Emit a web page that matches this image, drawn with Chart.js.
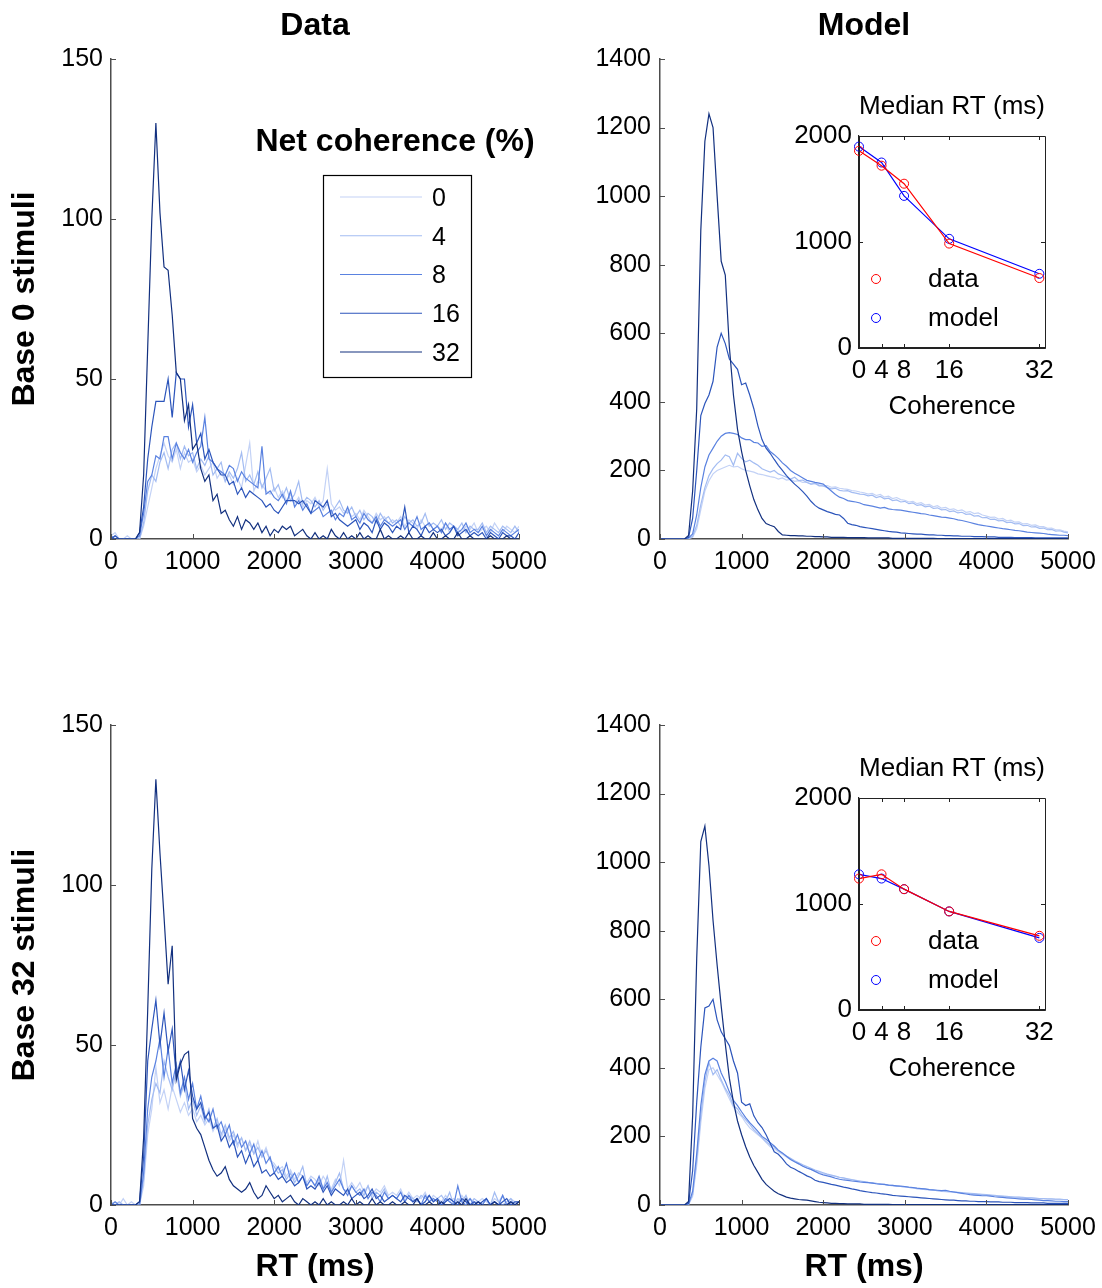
<!DOCTYPE html>
<html>
<head>
<meta charset="utf-8">
<title>RT distributions</title>
<script src="https://cdn.jsdelivr.net/npm/chart.js@4.4.1/dist/chart.umd.min.js"></script>
<style>
  body { margin: 0; background: #fff; }
  #page { position: relative; width: 1102px; height: 1288px; background: #fff; overflow: hidden; }
  #page canvas { position: absolute; }
</style>
</head>
<body>
<div id="page">
  <canvas id="tl" width="560" height="620" style="left:0;top:0"></canvas>
  <canvas id="tr" width="560" height="620" style="left:551px;top:0"></canvas>
  <canvas id="bl" width="560" height="668" style="left:0;top:620px"></canvas>
  <canvas id="br" width="560" height="668" style="left:551px;top:620px"></canvas>
  <canvas id="insetTop" width="300" height="350" style="left:780px;top:80px"></canvas>
  <canvas id="insetBot" width="300" height="350" style="left:780px;top:742px"></canvas>
</div>
<script>
// RT bins (ms), 50 ms wide
const rtBins = [
  0,50,100,150,200,250,300,350,400,450,
  500,550,600,650,700,750,800,850,900,950,
  1000,1050,1100,1150,1200,1250,1300,1350,1400,1450,
  1500,1550,1600,1650,1700,1750,1800,1850,1900,1950,
  2000,2050,2100,2150,2200,2250,2300,2350,2400,2450,
  2500,2550,2600,2650,2700,2750,2800,2850,2900,2950,
  3000,3050,3100,3150,3200,3250,3300,3350,3400,3450,
  3500,3550,3600,3650,3700,3750,3800,3850,3900,3950,
  4000,4050,4100,4150,4200,4250,4300,4350,4400,4450,
  4500,4550,4600,4650,4700,4750,4800,4850,4900,4950,
  5000];

const cohLabels = ['0', '4', '8', '16', '32'];
const cohColors = ['#c3d2f6', '#a3bcf2', '#5a82e0', '#2c55bb', '#12307f'];

// Base 0 stimuli - data
const b0Data0 = [
  1,2,0,0,1,0,0,0,4,10,
  16,22,26,30,26,24,28,22,27,24,
  25,21,23,20,22,24,19,21,18,20,
  17,19,16,23,30,15,18,17,15,14,
  16,13,15,12,14,11,13,10,12,11,
  13,10,12,22,11,9,10,8,9,7,
  8,6,9,7,5,8,6,7,5,6,
  5,7,4,6,5,3,6,4,5,3,
  4,3,5,2,4,3,2,4,3,5,
  2,3,4,2,5,3,2,4,3,2,
  4];
const b0Data4 = [
  0,1,0,0,0,0,0,0,5,15,
  20,18,24,27,22,28,30,25,29,26,
  27,22,25,23,26,20,22,24,18,21,
  19,22,27,18,20,17,21,16,19,22,
  15,17,13,16,12,14,18,11,13,12,
  10,12,9,11,8,10,12,9,8,10,
  7,9,6,8,7,5,8,6,7,5,
  6,4,7,5,6,4,5,8,4,5,
  4,6,3,5,4,3,5,2,4,3,
  3,5,2,4,3,2,4,3,2,4,
  2];
const b0Data8 = [
  1,0,0,0,0,0,0,1,8,18,
  20,26,25,32,32,25,30,27,25,28,
  24,27,29,38,25,24,22,21,20,23,
  22,18,21,19,18,17,16,29,14,15,
  13,12,14,11,15,10,12,9,11,8,
  9,10,7,8,9,6,8,7,10,6,
  7,5,8,6,5,7,4,6,5,4,
  5,6,3,5,4,7,3,4,5,3,
  4,2,5,3,4,2,3,5,2,3,
  2,4,1,3,2,1,3,2,1,2,
  3];
const b0Data16 = [
  0,1,0,0,0,0,0,2,10,25,
  35,43,43,43,50,38,52,50,50,35,
  42,30,33,25,28,24,22,20,20,17,
  18,14,16,13,15,14,13,12,10,11,
  9,8,10,12,12,12,11,12,10,8,
  12,11,10,12,7,8,6,5,4,5,
  6,3,5,4,2,6,3,5,4,2,
  4,3,10,2,4,3,1,4,2,3,
  2,3,1,2,4,1,2,3,1,2,
  1,2,0,2,1,0,2,1,1,0,
  2];
const b0Data32 = [
  0,0,0,0,0,0,0,2,20,60,
  100,130,102,85,84,70,52,50,37,42,
  28,30,22,18,20,12,14,8,9,6,
  4,7,3,6,5,3,5,2,4,1,
  3,2,4,3,4,1,2,3,1,0,
  2,0,1,0,3,1,0,2,0,1,
  0,2,0,1,0,0,3,0,1,0,
  0,1,0,2,0,0,1,0,0,2,
  0,0,1,0,0,2,0,0,1,0,
  0,0,0,1,0,0,0,1,0,0,
  0];

// Base 0 stimuli - model
const b0Model0 = [
  0,0,0,0,0,0,0,1,5,30,
  85,140,170,190,200,205,210,215,210,212,
  205,200,198,195,190,188,185,182,180,175,
  178,172,174,168,170,165,166,160,162,158,
  155,156,151,152,148,146,145,141,140,137,
  135,131,133,127,130,122,125,118,121,115,
  113,108,110,103,106,99,101,94,97,90,
  92,86,88,82,85,78,80,74,76,70,
  67,63,64,58,60,53,55,49,50,44,
  45,40,41,36,36,31,32,27,27,23,
  21];
const b0Model4 = [
  0,0,0,0,0,0,0,2,8,40,
  100,150,185,205,220,230,245,240,215,250,
  235,225,230,222,215,205,200,195,200,190,
  185,180,175,180,170,172,165,160,162,155,
  155,150,146,148,142,140,141,136,134,131,
  130,126,128,121,124,117,119,112,114,108,
  110,103,105,98,100,94,96,89,91,85,
  86,80,82,76,78,72,73,67,68,62,
  63,57,58,53,54,48,49,44,45,39,
  40,35,36,31,32,27,28,23,24,20,
  18];
const b0Model8 = [
  0,0,0,0,0,0,0,3,15,70,
  150,210,245,265,285,300,308,310,308,305,
  295,290,290,282,280,270,272,255,246,235,
  222,212,200,192,185,178,171,168,165,163,
  160,150,140,130,122,118,112,110,108,105,
  100,98,96,93,90,92,88,86,85,84,
  82,80,78,76,74,73,70,68,66,64,
  63,61,59,56,54,51,48,45,42,40,
  38,36,34,32,30,29,27,25,24,22,
  20,19,18,17,16,14,13,12,11,11,
  10];
const b0Model16 = [
  0,0,0,0,0,0,0,5,60,200,
  360,395,420,460,560,600,570,525,510,495,
  450,455,420,380,330,290,265,250,232,215,
  200,185,172,160,150,138,125,110,98,90,
  85,80,76,72,70,60,46,42,40,36,
  34,32,30,28,26,24,22,21,20,18,
  17,16,15,14,14,13,12,12,11,11,
  10,10,9,9,8,8,8,7,7,7,
  6,6,6,5,5,5,5,4,4,4,
  4,4,3,3,3,3,3,3,3,3,
  3];
const b0Model32 = [
  0,0,0,0,0,0,0,10,140,380,
  900,1160,1240,1200,1000,810,770,560,420,320,
  255,200,155,115,85,60,45,40,36,22,
  12,11,10,10,9,9,8,8,7,7,
  6,6,5,5,5,5,4,4,4,4,
  4,3,3,3,3,3,3,2,2,2,
  2,2,2,2,2,2,2,2,1,1,
  1,1,1,1,1,1,1,1,1,1,
  1,1,1,1,1,1,1,1,1,1,
  1,1,1,1,1,1,1,1,1,1,
  1];

// Base 32 stimuli - data
const b32Data0 = [
  1,0,0,2,0,1,0,0,6,22,
  30,43,32,36,30,37,33,29,32,28,
  30,26,28,25,27,23,26,21,24,20,
  22,18,21,17,19,16,20,15,18,14,
  13,11,12,9,11,8,10,9,7,9,
  8,6,9,7,5,8,6,14,5,7,
  5,7,4,6,3,5,4,6,3,4,
  3,5,2,4,2,3,2,4,1,3,
  2,1,3,1,2,1,3,1,2,1,
  1,2,1,0,2,1,3,0,2,1,
  1];
const b32Data4 = [
  0,0,1,0,0,0,0,0,8,25,
  33,38,35,45,40,36,42,34,38,30,
  33,28,31,26,30,24,27,22,25,21,
  23,19,21,17,20,16,18,15,17,14,
  12,10,11,8,10,7,9,12,6,8,
  6,8,5,9,4,7,10,5,4,6,
  4,5,3,6,2,4,3,5,2,3,
  2,4,1,3,2,1,3,2,3,1,
  2,3,1,4,0,2,1,3,0,2,
  1,0,2,0,4,1,0,1,2,0,
  1];
const b32Data8 = [
  0,1,0,0,0,0,0,0,10,30,
  40,45,52,40,49,38,44,35,40,33,
  38,30,34,28,26,30,24,26,22,25,
  19,22,18,20,16,19,14,17,13,15,
  10,12,9,13,8,10,7,9,6,8,
  6,9,5,7,4,6,8,5,3,6,
  4,3,5,2,4,3,1,4,2,3,
  2,4,1,3,1,2,0,3,1,2,
  1,0,2,1,0,6,1,0,2,0,
  1,0,2,0,1,0,3,0,1,0,
  1];
const b32Data16 = [
  0,0,0,0,0,0,0,1,15,45,
  55,64,50,60,48,55,40,45,36,42,
  34,30,32,27,29,24,25,20,22,18,
  20,15,17,13,16,12,14,10,11,9,
  10,8,9,7,8,6,7,9,5,6,
  5,7,4,6,3,5,4,3,5,2,
  3,4,2,3,5,2,3,1,2,3,
  2,1,3,2,1,2,0,1,3,1,
  2,0,1,2,1,0,2,1,0,1,
  0,1,2,0,1,0,1,2,0,1,
  1];
const b32Data32 = [
  0,0,0,0,0,0,0,1,21,61,
  105,133,110,90,69,81,39,44,47,48,
  27,24,22,18,14,11,9,10,12,8,
  6,5,4,5,7,4,2,3,6,4,
  2,3,1,2,3,1,0,2,1,0,
  1,0,2,0,1,0,0,1,0,2,
  0,1,0,0,2,0,1,0,0,1,
  0,0,1,0,0,2,0,0,1,0,
  0,1,0,0,0,1,0,2,0,0,
  1,0,0,0,1,0,0,0,1,0,
  1];

// Base 32 stimuli - model
const b32Model0 = [
  0,0,0,0,0,0,0,1,25,115,
  240,340,395,400,380,360,335,310,285,270,
  258,240,225,215,205,195,182,170,165,155,
  148,140,133,126,120,114,108,104,99,95,
  92,89,86,83,80,78,76,73,71,69,
  67,66,64,62,61,59,58,56,55,54,
  52,51,49,48,47,45,44,43,42,40,
  39,38,37,36,35,34,33,32,31,30,
  29,28,27,26,25,24,23,22,22,21,
  20,20,19,18,18,17,17,16,16,15,
  15];
const b32Model4 = [
  0,0,0,0,0,0,0,2,30,130,
  260,360,415,380,395,365,340,320,290,280,
  262,248,235,220,208,196,185,175,170,158,
  150,143,136,129,123,117,112,107,102,98,
  94,90,87,84,81,79,76,74,72,70,
  68,66,65,63,61,60,58,57,55,54,
  53,51,50,48,47,46,45,43,42,41,
  40,39,38,37,36,35,34,33,32,31,
  30,29,28,27,26,25,24,23,23,22,
  21,21,20,19,19,18,18,17,17,16,
  16];
const b32Model8 = [
  0,0,0,0,0,0,0,3,40,150,
  290,380,420,428,420,385,360,330,305,290,
  272,255,240,228,215,200,192,182,172,160,
  152,142,133,126,120,113,108,104,98,92,
  88,85,82,78,75,73,72,70,69,67,
  66,65,64,62,61,60,58,57,56,55,
  54,52,51,49,48,47,45,44,43,42,
  43,40,38,36,34,32,30,29,28,27,
  27,26,24,23,22,21,20,19,18,17,
  17,16,15,14,13,13,12,11,11,10,
  10];
const b32Model16 = [
  0,0,0,0,0,0,0,5,100,300,
  460,575,580,600,540,505,485,465,420,385,
  300,290,295,260,240,226,205,180,155,148,
  135,120,110,105,98,92,85,80,72,68,
  66,63,60,58,55,52,50,47,45,42,
  40,38,36,35,33,32,30,28,27,26,
  25,24,23,22,21,20,19,18,17,16,
  15,14,14,13,12,12,11,11,10,10,
  10,9,9,9,8,8,8,7,7,7,
  7,6,6,6,6,5,5,5,5,5,
  5];
const b32Model32 = [
  0,0,0,0,0,0,0,10,260,720,
  1060,1105,990,830,700,580,470,370,300,245,
  205,170,140,115,95,75,60,50,40,33,
  28,23,20,18,16,15,14,12,10,8,
  7,6,5,5,4,4,3,3,3,3,
  2,2,2,2,2,2,2,1,1,1,
  1,1,1,1,1,1,1,1,1,1,
  1,1,1,1,1,1,1,1,1,1,
  1,1,1,1,1,1,1,1,1,1,
  1,1,1,1,1,1,1,1,1,1,
  1];

// Median RT insets
const cohValues = [0, 4, 8, 16, 32];
const b0MedianData = [1860, 1720, 1550, 985, 660];
const b0MedianModel = [1900, 1750, 1435, 1030, 700];
const b32MedianData = [1240, 1280, 1140, 930, 700];
const b32MedianModel = [1280, 1240, 1140, 930, 680];

Chart.defaults.font.family = "'Liberation Sans', Arial, sans-serif";
Chart.defaults.color = '#000';

const FONT = "'Liberation Sans', Arial, sans-serif";
const AXIS = '#4d4d4d';

// ticks pointing into the plot (matlab style)
const inTicks = {
  id: 'inTicks',
  afterDraw(chart, args, opts) {
    const {ctx, chartArea: a, scales: {x, y}} = chart;
    const len = opts.len || 5;
    ctx.save();
    ctx.strokeStyle = opts.color || AXIS;
    ctx.lineWidth = opts.width || 1;
    ctx.beginPath();
    x.ticks.forEach(t => {
      const px = Math.round(x.getPixelForValue(t.value)) + 0.5;
      ctx.moveTo(px, a.bottom); ctx.lineTo(px, a.bottom - len);
      if (opts.mirror) { ctx.moveTo(px, a.top); ctx.lineTo(px, a.top + len); }
    });
    y.ticks.forEach(t => {
      const py = Math.round(y.getPixelForValue(t.value)) + 0.5;
      ctx.moveTo(a.left, py); ctx.lineTo(a.left + len, py);
      if (opts.mirror) { ctx.moveTo(a.right, py); ctx.lineTo(a.right - len, py); }
    });
    if (opts.box) ctx.rect(a.left + 0.5, a.top + 0.5, a.width, a.height);
    ctx.stroke();
    ctx.restore();
  }
};

// legend box "Net coherence (%)"
const cohLegend = {
  id: 'cohLegend',
  afterDraw(chart, args, opts) {
    if (!opts.show) return;
    const {ctx, chartArea: a} = chart;
    const sets = chart.data.datasets;
    ctx.save();
    ctx.fillStyle = '#000';
    ctx.textAlign = 'center';
    ctx.textBaseline = 'middle';
    ctx.font = 'bold 32px ' + FONT;
    ctx.fillText('Net coherence (%)', a.left + 284, a.top + 83);
    ctx.strokeStyle = '#000';
    ctx.lineWidth = 1.2;
    ctx.strokeRect(a.left + 212.5, a.top + 116.5, 148, 202);
    ctx.textAlign = 'left';
    ctx.font = '25px ' + FONT;
    sets.forEach((ds, i) => {
      const yy = a.top + 139 + i * 38.75;
      ctx.strokeStyle = ds.borderColor;
      ctx.lineWidth = 1.2;
      ctx.beginPath();
      ctx.moveTo(a.left + 229, yy - 1);
      ctx.lineTo(a.left + 311, yy - 1);
      ctx.stroke();
      ctx.fillText(ds.label, a.left + 321, yy + 1);
    });
    ctx.restore();
  }
};

// legend for the median RT inset
const rtLegend = {
  id: 'rtLegend',
  afterDraw(chart) {
    const {ctx, chartArea: a} = chart;
    ctx.save();
    ctx.font = '26px ' + FONT;
    ctx.textBaseline = 'middle';
    ctx.fillStyle = '#000';
    chart.data.datasets.forEach((ds, i) => {
      const yy = a.top + 143 + i * 39;
      ctx.strokeStyle = ds.borderColor;
      ctx.lineWidth = 1;
      ctx.beginPath();
      ctx.arc(a.left + 17, yy, 4.5, 0, Math.PI * 2);
      ctx.stroke();
      ctx.fillText(ds.label, a.left + 69, yy + 1);
    });
    ctx.restore();
  }
};

function makeSets(series) {
  return series.map((vals, i) => ({
    label: cohLabels[i],
    data: vals.map((v, k) => ({x: rtBins[k], y: v})),
    borderColor: cohColors[i],
    borderWidth: 1.2,
    pointRadius: 0,
    fill: false,
    order: series.length - i
  }));
}

function panelConfig(series, yMax, yStep, opt) {
  return {
    type: 'line',
    data: { datasets: makeSets(series) },
    options: {
      responsive: false,
      animation: false,
      devicePixelRatio: 1,
      events: [],
      layout: { padding: { top: opt.padTop, right: opt.padRight, left: 0, bottom: 0 } },
      scales: {
        x: {
          type: 'linear', min: 0, max: 5000,
          ticks: { stepSize: 1000, padding: 8, font: { size: 25 }, callback: v => String(v) },
          grid: { display: false, drawTicks: false },
          border: { color: AXIS, width: 1.5 },
          title: {
            display: !!opt.xTitle, text: opt.xTitle || '',
            font: { size: 32, weight: 'bold' }, padding: { top: 0, bottom: 2 }
          },
          afterFit: s => { s.height = opt.xHeight; }
        },
        y: {
          min: 0, max: yMax,
          ticks: { stepSize: yStep, padding: opt.yPad, font: { size: 25 }, callback: v => String(v) },
          grid: { display: false, drawTicks: false },
          border: { color: AXIS, width: 1.5 },
          title: {
            display: !!opt.yTitle, text: opt.yTitle || '',
            font: { size: 32, weight: 'bold' }, padding: { top: 6, bottom: 0 }
          },
          afterFit: s => { s.width = opt.yWidth; }
        }
      },
      plugins: {
        legend: { display: false },
        tooltip: { enabled: false },
        title: {
          display: !!opt.title, text: opt.title || '', fullSize: false,
          font: { size: 32, weight: 'bold' }, color: '#000',
          padding: { top: 7, bottom: 13.6 }
        },
        inTicks: { len: 5 },
        cohLegend: { show: !!opt.legend }
      }
    },
    plugins: [inTicks, cohLegend]
  };
}

function insetConfig(dataVals, modelVals) {
  const mk = (label, vals, color) => ({
    label: label,
    data: vals.map((v, i) => ({x: cohValues[i], y: v})),
    borderColor: color,
    borderWidth: 1.2,
    pointRadius: 4.5,
    pointBorderWidth: 1,
    pointBorderColor: color,
    pointBackgroundColor: 'rgba(0,0,0,0)',
    clip: 10
  });
  return {
    type: 'line',
    data: { datasets: [mk('data', dataVals, '#ff0000'), mk('model', modelVals, '#0000ff')] },
    options: {
      responsive: false,
      animation: false,
      devicePixelRatio: 1,
      events: [],
      layout: { padding: { top: 0, right: 35, left: 0, bottom: 0 } },
      scales: {
        x: {
          type: 'linear', min: 0, max: 33,
          afterBuildTicks: s => { s.ticks = cohValues.map(v => ({value: v})); },
          ticks: { padding: 7, font: { size: 26 }, callback: v => String(v) },
          grid: { display: false, drawTicks: false },
          border: { color: '#222', width: 1.2 },
          title: { display: true, text: 'Coherence', font: { size: 26 }, padding: { top: 0, bottom: 8 } },
          afterFit: s => { s.height = 82; }
        },
        y: {
          min: 0, max: 2000,
          ticks: { stepSize: 1000, padding: 7, font: { size: 26 }, callback: v => String(v) },
          grid: { display: false, drawTicks: false },
          border: { color: '#222', width: 1.2 },
          afterFit: s => { s.width = 79; }
        }
      },
      plugins: {
        legend: { display: false },
        tooltip: { enabled: false },
        title: {
          display: true, text: 'Median RT (ms)', fullSize: false,
          font: { size: 26, weight: 'normal' }, color: '#000',
          padding: { top: 11, bottom: 13.8 }
        },
        inTicks: { len: 4, mirror: true, box: true, color: '#222' }
      }
    },
    plugins: [inTicks, rtLegend]
  };
}

new Chart(document.getElementById('tl'), panelConfig(
  [b0Data0, b0Data4, b0Data8, b0Data16, b0Data32], 150, 50,
  { title: 'Data', yTitle: 'Base 0 stimuli', padTop: 0, padRight: 41, xHeight: 81, yWidth: 111, yPad: 8, legend: true }));

new Chart(document.getElementById('tr'), panelConfig(
  [b0Model0, b0Model4, b0Model8, b0Model16, b0Model32], 1400, 200,
  { title: 'Model', padTop: 0, padRight: 43, xHeight: 81, yWidth: 109, yPad: 9 }));

new Chart(document.getElementById('bl'), panelConfig(
  [b32Data0, b32Data4, b32Data8, b32Data16, b32Data32], 150, 50,
  { yTitle: 'Base 32 stimuli', xTitle: 'RT (ms)', padTop: 105, padRight: 41, xHeight: 83, yWidth: 111, yPad: 8 }));

new Chart(document.getElementById('br'), panelConfig(
  [b32Model0, b32Model4, b32Model8, b32Model16, b32Model32], 1400, 200,
  { xTitle: 'RT (ms)', padTop: 105, padRight: 43, xHeight: 83, yWidth: 109, yPad: 9 }));

new Chart(document.getElementById('insetTop'), insetConfig(b0MedianData, b0MedianModel));
new Chart(document.getElementById('insetBot'), insetConfig(b32MedianData, b32MedianModel));
</script>
</body>
</html>
